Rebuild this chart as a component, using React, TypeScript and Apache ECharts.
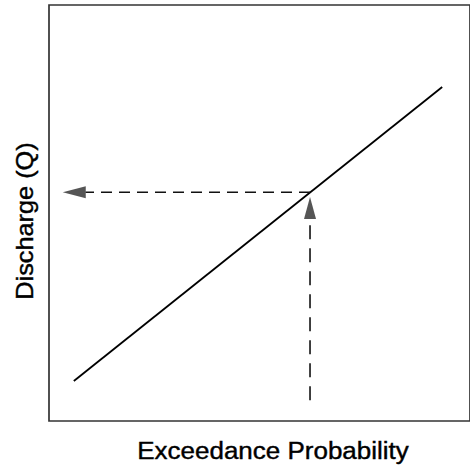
import React, { useEffect, useRef } from "react";
import * as echarts from "echarts";

// Rating / frequency curve (arbitrary units 0–100 on both axes)
const curveX = [5.9, 93.4];
const curveY = [9.6, 80.3];

// Reading of the curve: exceedance probability -> discharge
const readX = 62.0;
const readY = 55.0;
const verticalStartY = 5.0;   // bottom of the vertical dashed line
const verticalEndY = 48.6;    // base of the upward arrow head
const horizontalEndX = 8.7;   // base of the left arrow head
const upArrowCenterY = 51.2;
const leftArrowCenterX = 6.0;

const xTitle = "Exceedance Probability";
const yTitle = "Discharge (Q)";

export default function App() {
  const ref = useRef<HTMLDivElement>(null);
  useEffect(() => {
    if (!ref.current) return;
    const chart = echarts.init(ref.current, null, { renderer: "svg" });
    const font = "Liberation Sans, Arial, Helvetica, sans-serif";
    chart.setOption({
      animation: false,
      backgroundColor: "#ffffff",
      grid: {
        left: 49,
        top: 5,
        bottom: 49,
        right: -3,
        show: true,
        borderColor: "#333",
        borderWidth: 1.7,
        backgroundColor: "transparent",
      },
      xAxis: {
        type: "value",
        min: 0,
        max: 100,
        axisLine: { show: false },
        axisTick: { show: false },
        axisLabel: { show: false },
        splitLine: { show: false },
      },
      yAxis: {
        type: "value",
        min: 0,
        max: 100,
        axisLine: { show: false },
        axisTick: { show: false },
        axisLabel: { show: false },
        splitLine: { show: false },
      },
      series: [
        {
          type: "line",
          data: curveX.map((x, i) => [x, curveY[i]]),
          symbol: "none",
          lineStyle: { color: "#000", width: 1.8 },
        },
        {
          type: "line",
          data: [
            [readX, verticalStartY],
            [readX, verticalEndY],
          ],
          symbol: "none",
          lineStyle: { color: "#111", width: 1.6, type: [14, 9] },
        },
        {
          type: "line",
          data: [
            [readX, readY],
            [horizontalEndX, readY],
          ],
          symbol: "none",
          lineStyle: { color: "#111", width: 1.6, type: [11, 7] },
        },
        {
          type: "scatter",
          data: [[readX, upArrowCenterY]],
          symbol: "triangle",
          symbolSize: [12, 22],
          itemStyle: { color: "#2a2a2a" },
        },
        {
          type: "scatter",
          data: [[leftArrowCenterX, readY]],
          symbol: "triangle",
          symbolSize: [12, 23],
          symbolRotate: 90,
          itemStyle: { color: "#2a2a2a" },
        },
      ],
      graphic: [
        {
          type: "text",
          x: 273,
          y: 451,
          scaleX: 1.13,
          style: {
            text: xTitle,
            font: `23px ${font}`,
            fill: "#000",
            stroke: "#000",
            lineWidth: 0.4,
            textAlign: "center",
            textVerticalAlign: "middle",
          },
        },
        {
          type: "text",
          x: 25,
          y: 221,
          rotation: Math.PI / 2,
          scaleX: 1.1,
          style: {
            text: yTitle,
            font: `23px ${font}`,
            fill: "#000",
            stroke: "#000",
            lineWidth: 0.4,
            textAlign: "center",
            textVerticalAlign: "middle",
          },
        },
      ],
    });
    return () => chart.dispose();
  }, []);
  return (
    <div
      ref={ref}
      style={{ position: "fixed", left: 0, top: 0, width: 470, height: 470 }}
    />
  );
}
